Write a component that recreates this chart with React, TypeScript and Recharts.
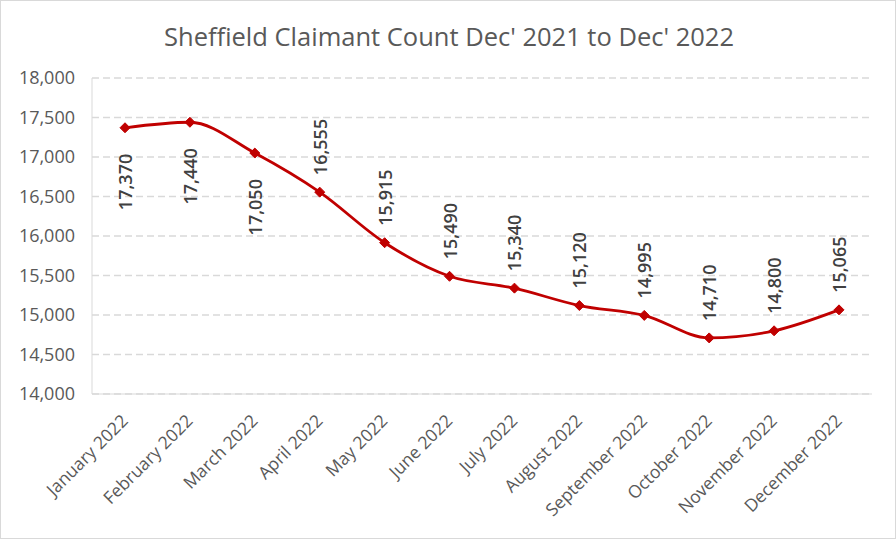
import React from 'react';
import {
  LineChart,
  Line,
  XAxis,
  YAxis,
  CartesianGrid,
  LabelList,
} from 'recharts';

const months = [
  'January 2022',
  'February 2022',
  'March 2022',
  'April 2022',
  'May 2022',
  'June 2022',
  'July 2022',
  'August 2022',
  'September 2022',
  'October 2022',
  'November 2022',
  'December 2022',
];

const claimants = [17370, 17440, 17050, 16555, 15915, 15490, 15340, 15120, 14995, 14710, 14800, 15065];

// first three labels sit under the point, the rest above
const labelBelow = [true, true, true, false, false, false, false, false, false, false, false, false];

const yTicks = [14000, 14500, 15000, 15500, 16000, 16500, 17000, 17500, 18000];

const data = months.map((month, i) => ({
  month,
  value: claimants[i],
  below: labelBelow[i],
}));

const RED = '#C00000';
const GREY_TEXT = '#595959';
const FRAME = '#d9d9d9';
const FONT = '"Open Sans", "Noto Sans", sans-serif';

const fmt = (v: number) => v.toLocaleString('en-GB');

function Diamond(props: any) {
  const { cx, cy } = props;
  if (cx == null || cy == null) return null;
  const r = 5;
  return (
    <polygon
      points={`${cx},${cy - r} ${cx + r},${cy} ${cx},${cy + r} ${cx - r},${cy}`}
      fill={RED}
      stroke={RED}
    />
  );
}

function ValueLabel(props: any) {
  const { x, y, value, index } = props;
  const below = labelBelow[index];
  const ty = below ? y + 26 : y - 17;
  return (
    <text
      x={x}
      y={ty}
      transform={`rotate(-90 ${x} ${ty})`}
      textAnchor={below ? 'end' : 'start'}
      dominantBaseline="central"
      fill="#404040"
      fontFamily={FONT}
      fontSize={18}
      fontWeight={600}
    >
      {fmt(value)}
    </text>
  );
}

function MonthTick(props: any) {
  const { x, y, payload } = props;
  const tx = x + 4;
  const ty = y + 20;
  return (
    <text
      x={tx}
      y={ty}
      transform={`rotate(-45 ${tx} ${ty})`}
      textAnchor="end"
      fill={GREY_TEXT}
      fontFamily={FONT}
      fontSize={17.5}
    >
      {payload.value}
    </text>
  );
}

export default function App() {
  return (
    <div
      style={{
        position: 'absolute',
        left: 0,
        top: 0,
        width: 896,
        height: 539,
        boxSizing: 'border-box',
        border: `1px solid ${FRAME}`,
        background: '#fff',
      }}
    >
      <div
        style={{
          position: 'absolute',
          top: 18,
          left: 0,
          width: 896,
          textAlign: 'center',
          fontFamily: FONT,
          fontSize: 25.5,
          color: GREY_TEXT,
        }}
      >
        Sheffield Claimant Count Dec' 2021 to Dec' 2022
      </div>
      <div style={{ position: 'absolute', left: -1, top: -1 }}>
        <LineChart
          width={896}
          height={539}
          data={data}
          margin={{ top: 78, right: 24, left: 0, bottom: 0 }}
        >
          <CartesianGrid
            vertical={false}
            stroke={FRAME}
            strokeDasharray="7 4"
            strokeWidth={1.3}
          />
          <XAxis
            dataKey="month"
            height={145}
            interval={0}
            padding={{ left: 33, right: 33 }}
            tickLine={false}
            axisLine={{ stroke: FRAME }}
            tick={<MonthTick />}
          />
          <XAxis
            xAxisId="frameTop"
            dataKey="month"
            orientation="top"
            height={0}
            tick={false}
            tickLine={false}
            axisLine={{ stroke: FRAME }}
          />
          <YAxis
            width={92}
            domain={[14000, 18000]}
            ticks={yTicks}
            interval={0}
            tickLine={false}
            axisLine={{ stroke: FRAME }}
            tickFormatter={fmt}
            tick={{ fill: GREY_TEXT, fontFamily: FONT, fontSize: 18 }}
            tickMargin={11}
          />
          <YAxis
            yAxisId="frameRight"
            orientation="right"
            width={0}
            domain={[14000, 18000]}
            tick={false}
            tickLine={false}
            axisLine={{ stroke: FRAME }}
          />
          <Line
            type="monotone"
            dataKey="value"
            stroke={RED}
            strokeWidth={2.8}
            dot={<Diamond />}
            activeDot={false}
            isAnimationActive={false}
          >
            <LabelList dataKey="value" content={<ValueLabel />} />
          </Line>
        </LineChart>
      </div>
    </div>
  );
}
